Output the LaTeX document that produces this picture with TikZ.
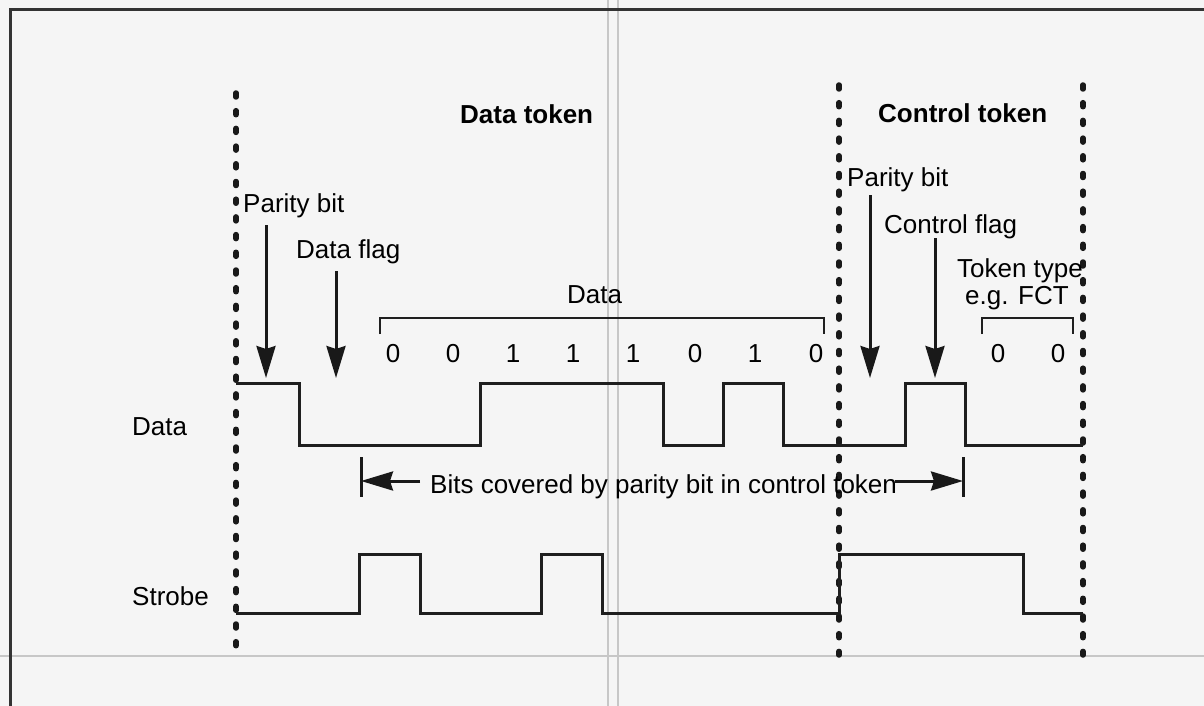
\documentclass[tikz,border=0pt]{standalone}
\usepackage{fontspec}
\setmainfont{Liberation Sans}
\usetikzlibrary{arrows.meta}
\begin{document}
\begin{tikzpicture}[x=1pt,y=-1pt,
  sig/.style={line width=3pt, line join=miter, black!88},
  dotline/.style={line width=5.5pt, line cap=round, dash pattern=on 4pt off 13.7pt, black!90},
  lbl/.style={anchor=base west, inner sep=0pt, text=black, font=\fontsize{26}{30}\selectfont},
  ttl/.style={anchor=base west, inner sep=0pt, text=black, font=\fontsize{26}{30}\selectfont\bfseries},
  dig/.style={anchor=base, inner sep=0pt, text=black, font=\fontsize{26}{30}\selectfont},
  ptr/.style={line width=3pt, black!90, -{Stealth[length=32pt,width=19pt,inset=3pt]}},
  brk/.style={line width=2.8pt, black!88},
  scan/.style={black!22, line width=2.2pt}]
\useasboundingbox (0,0) rectangle (1204,706);
\fill[black!4] (0,0) rectangle (1204,706);
\clip (0,0) rectangle (1204,706);
% scan artefacts
\draw[scan] (608,0) -- (608,706);
\draw[scan] (618,0) -- (618,706);
\draw[scan, line width=1.5pt] (0,656) -- (1204,656);
% frame
\draw[line width=3pt, black!80] (10,730) -- (10,10) -- (1230,10);
% dotted boundaries
\coordinate (d1t) at (236,93);  \coordinate (d1b) at (236,648);
\coordinate (d2t) at (839,85);  \coordinate (d2b) at (839,655);
\coordinate (d3t) at (1083,85); \coordinate (d3b) at (1083,655);
\draw[dotline] (d1t) -- (d1b);
\draw[dotline] (d2t) -- (d2b);
\draw[dotline] (d3t) -- (d3b);
% titles
\node[ttl] (dtok) at (460,124) {Data token};
\node[ttl] (ctok) at (878,123) {Control token};
% labels
\node[lbl] (pb1) at (243,212) {Parity bit};
\node[lbl] (dfl) at (296,258) {Data flag};
\node[lbl] (dat) at (567,303) {Data};
\node[lbl] (pb2) at (847,186) {Parity bit};
\node[lbl] (cfl) at (884,233) {Control flag};
\node[dig] (tt1) at (1020,277) {Token type};
\node[dig] (tt2) at (1017,304) {e.g. FCT};
\node[lbl] (sdat) at (132,435) {Data};
\node[lbl] (sstr) at (132,605) {Strobe};
\node[lbl] (bits) at (430,493) {Bits covered by parity bit in control token};
% digits
\foreach \xx/\vv [count=\i] in {393/0,453/0,513/1,573/1,633/1,695/0,755/1,816/0,998/0,1058/0}
  \node[dig] (b\i) at (\xx,362) {\vv};
% brackets
\draw[brk] (380,334) -- (380,318) -- (824,318) -- (824,334);
\draw[brk] (982,334) -- (982,318) -- (1073,318) -- (1073,334);
% pointer arrows
\coordinate (a1s) at (266,225); \coordinate (a1e) at (266,378);
\coordinate (a2s) at (336,271); \coordinate (a2e) at (336,378);
\coordinate (a3s) at (870,195); \coordinate (a3e) at (870,378);
\coordinate (a4s) at (935,238); \coordinate (a4e) at (935,378);
\draw[ptr] (a1s) -- (a1e);
\draw[ptr] (a2s) -- (a2e);
\draw[ptr] (a3s) -- (a3e);
\draw[ptr] (a4s) -- (a4e);
% bits covered span
\coordinate (bl) at (361,481); \coordinate (br) at (963,481);
\draw[line width=3pt, black!90] (361,457) -- (361,497);
\draw[line width=3pt, black!90] (963,457) -- (963,497);
\draw[ptr] (bits.west |- bl) ++(-10,0) -- (bl);
\draw[ptr] (895,481) -- (br);
% data signal
\draw[sig] (236,383) -- (299,383) -- (299,445) -- (480,445) -- (480,383)
  -- (663,383) -- (663,445) -- (723,445) -- (723,383) -- (783,383)
  -- (783,445) -- (905,445) -- (905,383) -- (965,383) -- (965,445) -- (1083,445);
% strobe signal
\draw[sig] (236,613) -- (359,613) -- (359,554) -- (420,554) -- (420,613)
  -- (541,613) -- (541,554) -- (602,554) -- (602,613) -- (839,613)
  -- (839,554) -- (1023,554) -- (1023,613) -- (1083,613);
\end{tikzpicture}
\end{document}
